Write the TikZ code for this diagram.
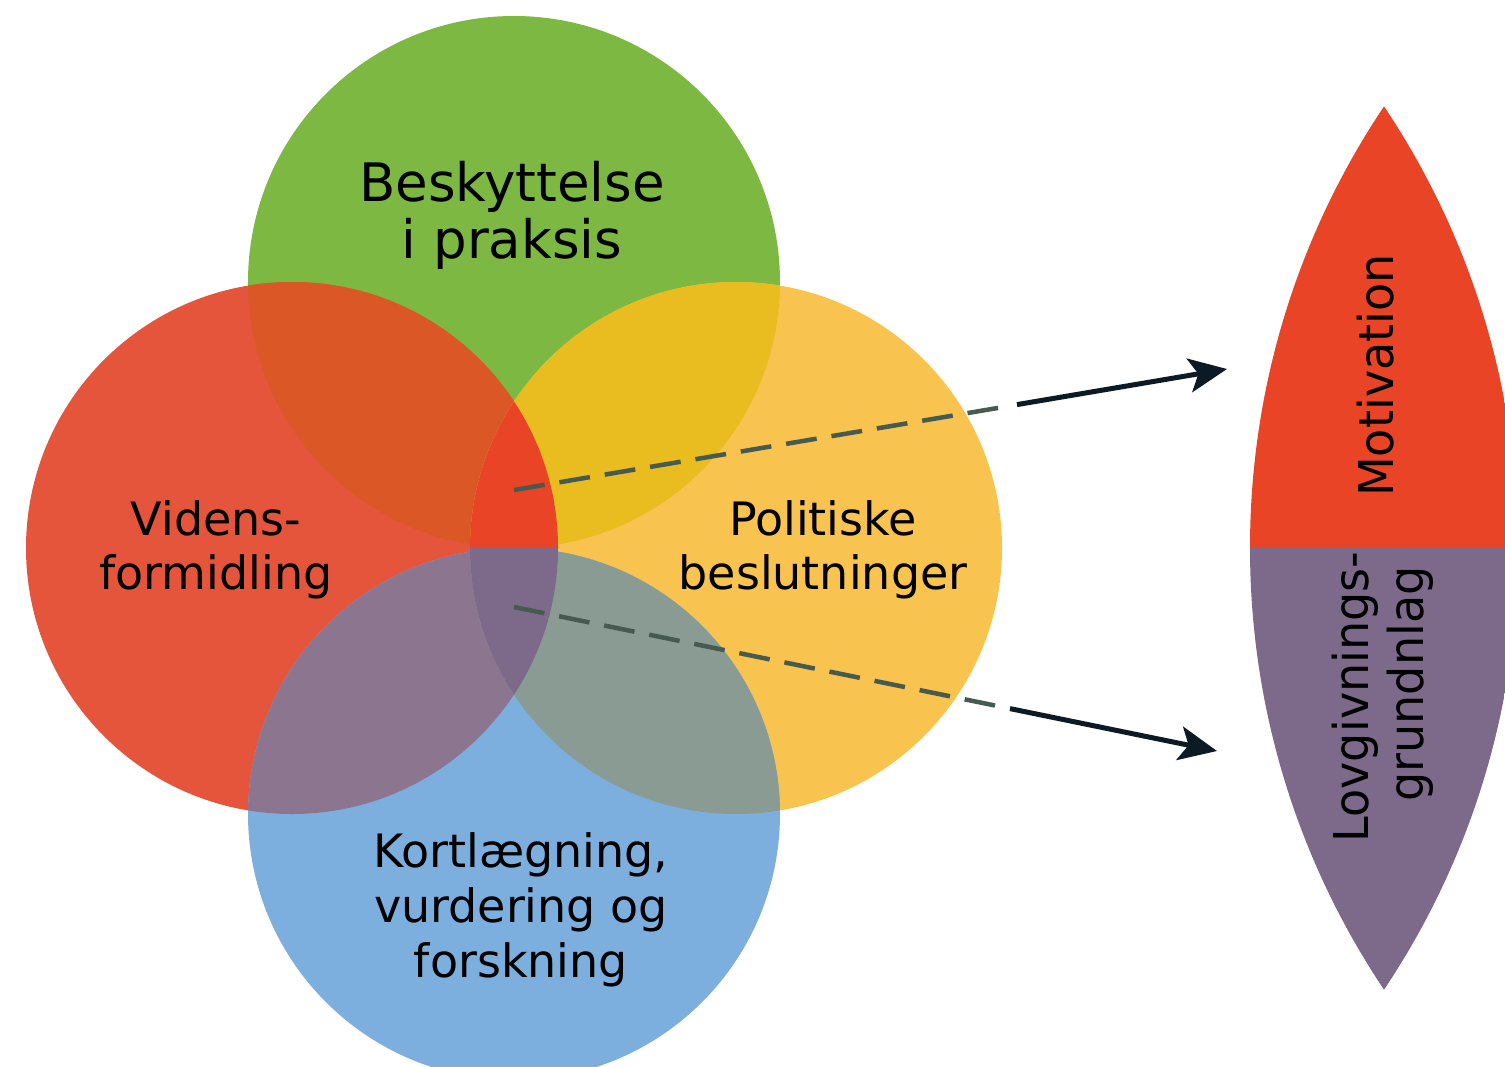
\documentclass[tikz,border=0pt]{standalone}
\usepackage{fontspec}
\setmainfont{DejaVu Sans}
\newfontfamily\lensfont[FakeStretch=0.96]{DejaVu Sans}
\usetikzlibrary{arrows.meta}
\definecolor{cgreen}{HTML}{7CB842}
\definecolor{cred}{HTML}{E5553C}
\definecolor{cyellow}{HTML}{F8C34E}
\definecolor{cblue}{HTML}{7DAFDE}
\definecolor{cgr}{HTML}{DB5726}
\definecolor{cgy}{HTML}{E9BC20}
\definecolor{crb}{HTML}{8C758E}
\definecolor{cyb}{HTML}{8A9B94}
\definecolor{cctop}{HTML}{E84425}
\definecolor{ccbot}{HTML}{7D6A8B}
\definecolor{cdash}{HTML}{465A50}
\definecolor{carrow}{HTML}{0B1A25}
\tikzset{
  lbl/.style={align=center, inner sep=0pt, text=black},
  bigfont/.style={font=\fontsize{53}{57}\selectfont},
  midfont/.style={font=\fontsize{46}{54}\selectfont},
  kortfont/.style={font=\fontsize{46}{55}\selectfont},
  lensfnt/.style={font=\lensfont\fontsize{48}{55}\selectfont, rotate=90},
  dashpart/.style={draw=cdash, line width=4.5pt, dash pattern=on 31pt off 15pt},
  arrowpart/.style={draw=carrow, line width=5pt, -{Stealth[length=38pt,width=34pt,inset=9pt]}},
}
\begin{document}
\begin{tikzpicture}[x=1pt,y=-1pt]
\useasboundingbox (0,0) rectangle (1505,1066);
\clip (0,0) rectangle (1505,1066);
\def\rad{266pt}
\coordinate (G) at (514,282);
\coordinate (R) at (292,548);
\coordinate (Y) at (736,548);
\coordinate (B) at (514,814);
% base circles
\fill[cgreen] (G) circle[radius=\rad];
\fill[cred] (R) circle[radius=\rad];
\fill[cyellow] (Y) circle[radius=\rad];
\fill[cblue] (B) circle[radius=\rad];
% overlaps
\begin{scope}\clip (G) circle[radius=\rad]; \fill[cgr] (R) circle[radius=\rad]; \end{scope}
\begin{scope}\clip (G) circle[radius=\rad]; \fill[cgy] (Y) circle[radius=\rad]; \end{scope}
\begin{scope}\clip (B) circle[radius=\rad]; \fill[crb] (R) circle[radius=\rad]; \end{scope}
\begin{scope}\clip (B) circle[radius=\rad]; \fill[cyb] (Y) circle[radius=\rad]; \end{scope}
\begin{scope}
  \clip (R) circle[radius=\rad];
  \clip (Y) circle[radius=\rad];
  \fill[cctop] (400,380) rectangle (620,548);
  \fill[ccbot] (400,548) rectangle (620,720);
\end{scope}
% lens
\coordinate (LA) at (2044.3,548);
\coordinate (LB) at (723.7,548);
\begin{scope}
  \clip (LA) circle[radius=794.3pt];
  \clip (LB) circle[radius=794.3pt];
  \fill[cctop] (1240,100) rectangle (1530,548);
  \fill[ccbot] (1240,548) rectangle (1530,1000);
\end{scope}
% labels
\node[lbl, bigfont] (tBes) at (512,215.6) {Beskyttelse\\i praksis};
\node[lbl, midfont] (tVid) at (216,549.5) {Videns-\\formidling};
\node[lbl, midfont] (tPol) at (823,550) {Politiske\\beslutninger};
\node[lbl, kortfont] (tKort) at (521,910) {Kortlægning,\\vurdering og\\forskning};
\node[lbl, lensfnt] (tMot) at (1376,375.5) {Motivation};
\node[lbl, lensfnt] (tLov) at (1383,697) {Lovgivnings-\\\hspace*{26pt}grundnlag};
% arrows
\coordinate (u0) at (514,490);
\coordinate (u1) at (998.1,407.9);
\coordinate (u2) at (1017,404.6);
\coordinate (u3) at (1227,369);
\coordinate (d0) at (514,607);
\coordinate (d1) at (995,705.5);
\coordinate (d2) at (1010,708.6);
\coordinate (d3) at (1217,751);
\draw[dashpart] (u0) -- (u1);
\draw[arrowpart] (u2) -- (u3);
\draw[dashpart] (d0) -- (d1);
\draw[arrowpart] (d2) -- (d3);
\end{tikzpicture}
\end{document}
